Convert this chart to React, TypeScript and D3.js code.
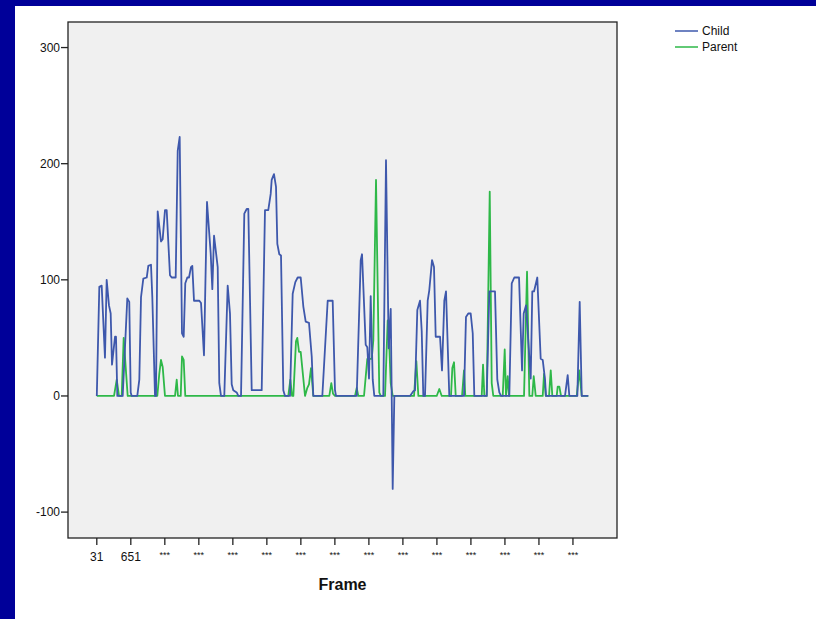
import React from "react";
import * as d3 from "d3";

// frame / value vertices
const childFrames = [31, 77, 120, 180, 211, 253, 284, 308, 363, 381, 405, 503, 587, 623, 649, 667, 769, 806, 837, 879, 941, 970, 1019, 1043, 1092, 1110, 1141, 1201, 1232, 1274, 1305, 1365, 1396, 1469, 1506, 1542, 1584, 1615, 1644, 1681, 1712, 1748, 1772, 1803, 1900, 1931, 1985, 2040, 2107, 2137, 2168, 2235, 2264, 2295, 2355, 2417, 2459, 2490, 2519, 2581, 2611, 2660, 2720, 2764, 2793, 2855, 3037, 3097, 3157, 3201, 3219, 3261, 3298, 3322, 3358, 3389, 3431, 3462, 3553, 3602, 3650, 3693, 3748, 3796, 3839, 3899, 3949, 3978, 4142, 4240, 4331, 4373, 4392, 4769, 4842, 4866, 4933, 4962, 4993, 5024, 5061, 5090, 5254, 5303, 5352, 5389, 5407, 5425, 5455, 5741, 5801, 5832, 5874, 5923, 5954, 5983, 6014, 6063, 6092, 6142, 6178, 6209, 6288, 6324, 6366, 6397, 6457, 6725, 6761, 6803, 6847, 6884, 6913, 7139, 7187, 7290, 7332, 7369, 7400, 7551, 7595, 7642, 7728, 7783, 7813, 7855, 7941, 7970, 8001, 8061, 8123, 8160, 8202, 8220, 8566, 8615, 8645, 8791, 8834, 8871, 8991];
const childValues = [0, 94, 95, 33, 100, 78, 71, 27, 51, 51, 0, 0, 84, 81, 3, 0, 0, 14, 85, 101, 102, 112, 113, 85, 0, 0, 159, 133, 135, 160, 160, 104, 102, 102, 211, 223, 54, 51, 97, 102, 102, 111, 112, 82, 82, 80, 35, 167, 123, 92, 138, 111, 11, 0, 0, 95, 71, 10, 5, 3, 0, 0, 157, 161, 161, 5, 5, 160, 160, 174, 186, 191, 180, 131, 122, 121, 5, 0, 0, 88, 98, 102, 102, 77, 64, 63, 34, 0, 0, 82, 82, 5, 0, 0, 117, 122, 44, 42, 15, 86, 14, 0, 0, 203, 41, 75, 0, -80, 0, 0, 4, 5, 74, 82, 56, 0, 0, 82, 91, 117, 111, 51, 51, 22, 82, 90, 0, 0, 68, 71, 71, 54, 0, 0, 90, 90, 14, 3, 0, 0, 97, 102, 102, 22, 71, 78, 15, 90, 90, 102, 32, 31, 14, 0, 0, 18, 0, 0, 81, 0, 0];

const parentFrames = [31, 345, 394, 436, 485, 521, 594, 1134, 1170, 1201, 1232, 1274, 1457, 1488, 1511, 1561, 1584, 1615, 1644, 3522, 3559, 3590, 3614, 3662, 3686, 3717, 3748, 3827, 3869, 3899, 3936, 3978, 4270, 4306, 4337, 4373, 4738, 4769, 4798, 4902, 4962, 5043, 5072, 5121, 5181, 5207, 5285, 5334, 5364, 5389, 5425, 5814, 5856, 5893, 6227, 6275, 6319, 6488, 6512, 6543, 6574, 6689, 6725, 6749, 7048, 7072, 7096, 7139, 7194, 7230, 7259, 7431, 7467, 7491, 7522, 7546, 7819, 7874, 7916, 7970, 7996, 8032, 8160, 8184, 8215, 8275, 8306, 8335, 8415, 8433, 8463, 8494, 8780, 8827, 8871, 8991];
const parentValues = [0, 0, 14, 0, 0, 50, 0, 0, 19, 31, 25, 0, 0, 14, 0, 0, 34, 31, 0, 0, 14, 0, 0, 47, 50, 38, 38, 0, 7, 10, 24, 0, 0, 11, 2, 0, 0, 7, 0, 0, 32, 32, 48, 186, 3, 0, 0, 65, 42, 11, 0, 0, 30, 0, 0, 6, 0, 0, 24, 29, 0, 0, 22, 0, 0, 27, 0, 0, 176, 11, 0, 0, 40, 0, 17, 0, 0, 107, 0, 0, 17, 0, 0, 19, 0, 0, 22, 0, 0, 8, 8, 0, 0, 22, 0, 0];

const xTickFrames = [31, 651, 1271, 1891, 2511, 3131, 3751, 4371, 4991, 5611, 6231, 6851, 7471, 8091, 8711];
const xTickLabels = ["31", "651", "***", "***", "***", "***", "***", "***", "***", "***", "***", "***", "***", "***", "***"];
const yTicks = [-100, 0, 100, 200, 300];

const seriesNames = ["Child", "Parent"];
const seriesColors = ["#3e58ac", "#2eb848"];

const W = 816;
const H = 619;
const box = { left: 68, right: 617, top: 22, bottom: 538 };

export default function App() {
  const x = d3.scaleLinear().domain([-494, 9514]).range([box.left, box.right]);
  const y = d3.scaleLinear().domain([-122.3, 322]).range([box.bottom, box.top]);

  const line = d3
    .line<[number, number]>()
    .x((d) => x(d[0]))
    .y((d) => y(d[1]));

  const childPts = childFrames.map((f, i) => [f, childValues[i]] as [number, number]);
  const parentPts = parentFrames.map((f, i) => [f, parentValues[i]] as [number, number]);

  const font = "Arial, 'Liberation Sans', sans-serif";

  return (
    <svg
      width={W}
      height={H}
      style={{ position: "absolute", left: 0, top: 0 }}
      fontFamily={font}
    >
      <rect x={0} y={0} width={W} height={H} fill="#ffffff" />
      <rect x={0} y={0} width={W} height={6} fill="#000099" />
      <rect x={0} y={0} width={15} height={H} fill="#000099" />

      <rect
        x={box.left}
        y={box.top}
        width={box.right - box.left}
        height={box.bottom - box.top}
        fill="#f0f0f0"
      />

      <path d={line(parentPts) || ""} fill="none" stroke={seriesColors[1]} strokeWidth={1.8} strokeLinejoin="round" />
      <path d={line(childPts) || ""} fill="none" stroke={seriesColors[0]} strokeWidth={1.8} strokeLinejoin="round" />

      <rect
        x={box.left}
        y={box.top}
        width={box.right - box.left}
        height={box.bottom - box.top}
        fill="none"
        stroke="#222"
        strokeWidth={1.3}
      />

      {yTicks.map((t) => (
        <g key={t}>
          <line x1={box.left - 7} x2={box.left} y1={y(t)} y2={y(t)} stroke="#222" strokeWidth={1.3} />
          <text x={box.left - 8} y={y(t)} dy="0.35em" textAnchor="end" fontSize={12} fill="#111">
            {t}
          </text>
        </g>
      ))}

      {xTickFrames.map((f, i) => (
        <g key={f}>
          <line x1={x(f)} x2={x(f)} y1={box.bottom} y2={box.bottom + 7} stroke="#222" strokeWidth={1.3} />
          <text
            x={x(f)}
            y={xTickLabels[i] === "***" ? box.bottom + 20 : box.bottom + 23}
            textAnchor="middle"
            fontSize={xTickLabels[i] === "***" ? 9 : 12}
            fill="#111"
          >
            {xTickLabels[i]}
          </text>
        </g>
      ))}

      <text
        x={(box.left + box.right) / 2}
        y={590}
        textAnchor="middle"
        fontSize={16}
        fontWeight="bold"
        fill="#111"
      >
        Frame
      </text>

      {seriesNames.map((s, i) => (
        <g key={s}>
          <line x1={675} x2={698} y1={31 + i * 16} y2={31 + i * 16} stroke={seriesColors[i]} strokeWidth={1.5} />
          <text x={702} y={31 + i * 16} dy="0.35em" fontSize={12} fill="#111">
            {s}
          </text>
        </g>
      ))}
    </svg>
  );
}
